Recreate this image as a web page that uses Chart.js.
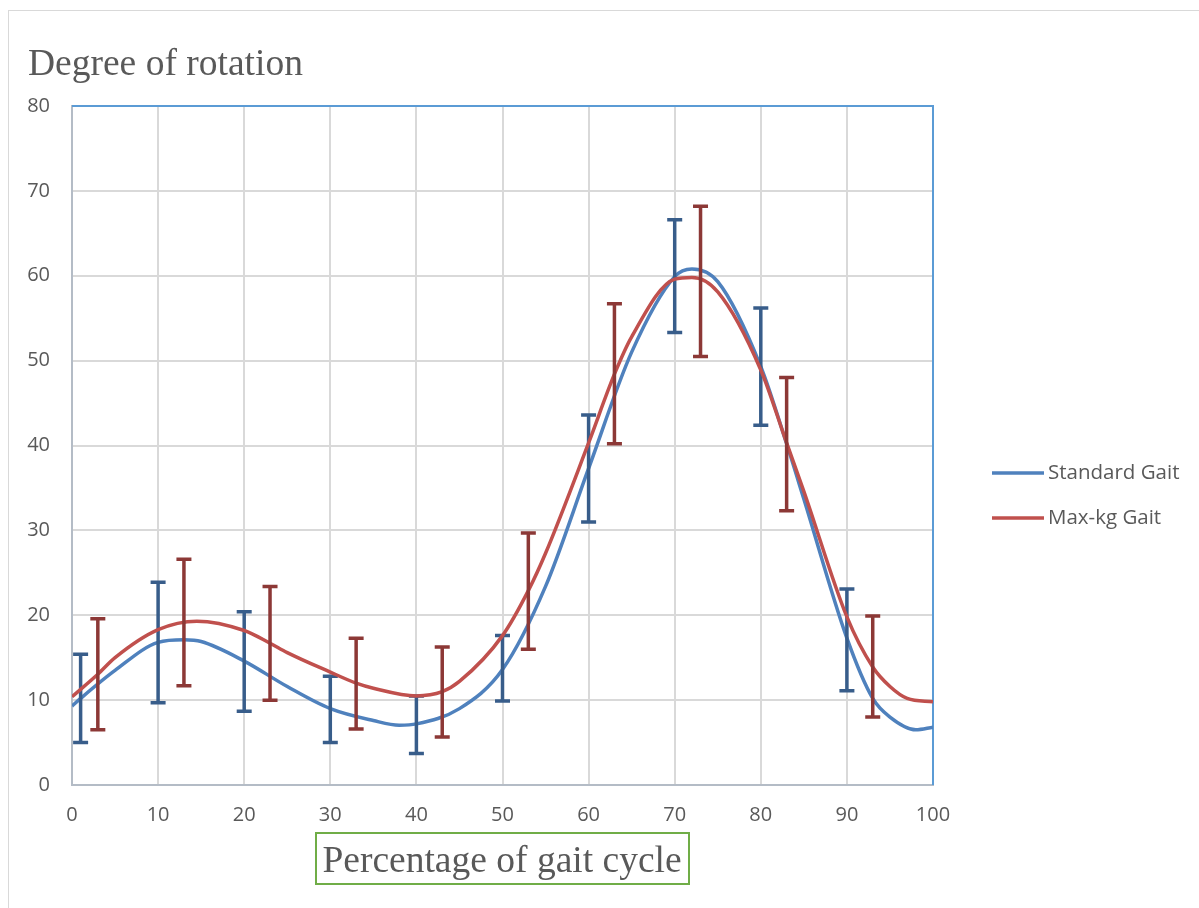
<!DOCTYPE html>
<html>
<head>
<meta charset="utf-8">
<script src="https://cdn.jsdelivr.net/npm/chart.js"></script>
<style>
  html, body { margin: 0; padding: 0; background: #fff; overflow: hidden; }
  #wrap { position: relative; width: 1199px; height: 908px; overflow: hidden; }
  #frame { position: absolute; left: 8px; top: 10px; width: 1400px; height: 1100px;
           border-left: 1px solid #d9d9d9; border-top: 1px solid #d9d9d9; }
  canvas { position: absolute; left: 0; top: 0; }
</style>
</head>
<body>
<div id="wrap">
  <div id="frame"></div>
  <canvas id="gaitChart" width="1199" height="908"></canvas>
</div>
<script>
// Smoothed rotation curves (gait % -> degrees)
const standardCurvePct = [0, 1, 5, 10, 13, 15, 20, 25, 30, 35, 38, 40, 45, 50, 55, 60, 65, 70, 72, 75, 80, 83, 85, 90, 93, 95, 98, 100];
const standardCurve    = [9.3, 10.2, 13.5, 16.8, 17.1, 16.9, 14.6, 11.6, 9.0, 7.6, 7.05, 7.2, 9.0, 13.6, 23.4, 37.3, 51.0, 59.9, 60.8, 59.3, 49.3, 40.2, 33.7, 17.3, 10.2, 8.0, 6.5, 6.8];
const maxKgCurvePct    = [0, 3, 5, 10, 14.5, 20, 23, 25, 30, 33, 35, 40, 43, 45, 50, 53, 55, 60, 63, 65, 70, 72, 75, 80, 83, 85, 90, 93, 95, 97, 100];
const maxKgCurve       = [10.4, 13.05, 15.0, 18.3, 19.3, 18.2, 16.7, 15.6, 13.3, 12.0, 11.4, 10.5, 11.0, 12.2, 17.6, 22.9, 27.3, 40.3, 48.4, 52.8, 59.6, 59.8, 58.1, 48.9, 40.3, 34.6, 19.8, 13.9, 11.6, 10.2, 9.8];

// Mean +/- SD at the measured points
const standardBarPct = [1, 10, 20, 30, 40, 50, 60, 70, 80, 90];
const standardMean   = [10.2, 16.8, 14.55, 8.9, 7.1, 13.75, 37.3, 59.95, 49.3, 17.1];
const standardSd     = [5.2, 7.1, 5.85, 3.9, 3.4, 3.85, 6.3, 6.65, 6.9, 6.0];
const maxKgBarPct    = [3, 13, 23, 33, 43, 53, 63, 73, 83, 93];
const maxKgMean      = [13.05, 19.15, 16.7, 11.95, 10.95, 22.85, 48.45, 59.35, 40.15, 13.95];
const maxKgSd        = [6.55, 7.45, 6.7, 5.35, 5.3, 6.85, 8.25, 8.85, 7.85, 5.95];

const xTicks = [0, 10, 20, 30, 40, 50, 60, 70, 80, 90, 100];
const yTicks = [0, 10, 20, 30, 40, 50, 60, 70, 80];

const seriesNames = ['Standard Gait', 'Max-kg Gait'];
const TEXT = '#595959';

const toPoints = (xs, ys) => xs.map((x, i) => ({ x, y: ys[i] }));

// vertical whiskers with caps, drawn right after their own series
const errorBarPlugin = {
  id: 'errorBars',
  afterDatasetDraw(chart, args) {
    const ds = chart.data.datasets[args.index];
    if (!ds.errorBars) return;
    const { ctx, scales: { x, y } } = chart;
    const eb = ds.errorBars;
    ctx.save();
    ctx.strokeStyle = ds.errorColor;
    ctx.lineWidth = 3.5;
    ctx.lineCap = 'butt';
    eb.x.forEach((v, i) => {
      const px = x.getPixelForValue(v);
      const top = y.getPixelForValue(eb.mean[i] + eb.sd[i]);
      const bot = y.getPixelForValue(eb.mean[i] - eb.sd[i]);
      ctx.beginPath();
      ctx.moveTo(px, top); ctx.lineTo(px, bot);
      ctx.moveTo(px - 7.5, top); ctx.lineTo(px + 7.5, top);
      ctx.moveTo(px - 7.5, bot); ctx.lineTo(px + 7.5, bot);
      ctx.stroke();
    });
    ctx.restore();
  }
};

// blue frame on the top and right of the plot area
const plotFramePlugin = {
  id: 'plotFrame',
  beforeDatasetsDraw(chart) {
    const { ctx, chartArea: a } = chart;
    ctx.save();
    ctx.strokeStyle = '#5b9bd5';
    ctx.lineWidth = 2;
    ctx.beginPath();
    ctx.moveTo(a.left, a.top); ctx.lineTo(a.right, a.top); ctx.lineTo(a.right, a.bottom);
    ctx.stroke();
    ctx.restore();
  }
};

// titles and legend
const textPlugin = {
  id: 'texts',
  afterDraw(chart) {
    const ctx = chart.ctx;
    ctx.save();
    ctx.fillStyle = TEXT;
    ctx.font = '37.5px "Liberation Serif"';
    ctx.textAlign = 'left';
    ctx.textBaseline = 'alphabetic';
    ctx.fillText('Degree of rotation', 28, 75);

    ctx.strokeStyle = '#70ad47';
    ctx.lineWidth = 2;
    ctx.strokeRect(316, 833, 373, 51);
    ctx.textAlign = 'center';
    ctx.fillText('Percentage of gait cycle', 502, 872);

    ctx.font = '20.5px "Open Sans"';
    ctx.textAlign = 'left';
    ctx.textBaseline = 'middle';
    chart.data.datasets.forEach((ds, i) => {
      const ly = 473 + i * 45;
      ctx.strokeStyle = ds.borderColor;
      ctx.lineWidth = 3.5;
      ctx.beginPath();
      ctx.moveTo(992, ly); ctx.lineTo(1044, ly);
      ctx.stroke();
      ctx.fillStyle = TEXT;
      ctx.fillText(ds.label, 1048, ly);
    });
    ctx.restore();
  }
};

const tickFont = { family: 'Open Sans', size: 20 };

new Chart(document.getElementById('gaitChart'), {
  type: 'line',
  data: {
    datasets: [
      {
        label: seriesNames[0],
        data: toPoints(standardCurvePct, standardCurve),
        borderColor: '#4f81bd',
        borderWidth: 3.5,
        pointRadius: 0,
        cubicInterpolationMode: 'monotone',
        order: 1,
        errorBars: { x: standardBarPct, mean: standardMean, sd: standardSd },
        errorColor: '#385d8a'
      },
      {
        label: seriesNames[1],
        data: toPoints(maxKgCurvePct, maxKgCurve),
        borderColor: '#c0504d',
        borderWidth: 3.5,
        pointRadius: 0,
        cubicInterpolationMode: 'monotone',
        order: 0,
        errorBars: { x: maxKgBarPct, mean: maxKgMean, sd: maxKgSd },
        errorColor: '#8c3836'
      }
    ]
  },
  options: {
    responsive: false,
    animation: false,
    layout: { padding: { left: 0, top: 106, right: 266, bottom: 83 } },
    plugins: { legend: { display: false }, tooltip: { enabled: false } },
    scales: {
      x: {
        type: 'linear', min: 0, max: 100,
        afterBuildTicks: s => { s.ticks = xTicks.map(v => ({ value: v })); },
        afterFit: s => { s.height = 40; },
        grid: { color: '#d9d9d9', lineWidth: 2, drawTicks: false },
        border: { color: '#b4bcc6', width: 2 },
        ticks: { color: TEXT, font: tickFont, padding: 18, maxRotation: 0 }
      },
      y: {
        type: 'linear', min: 0, max: 80,
        afterBuildTicks: s => { s.ticks = yTicks.map(v => ({ value: v })); },
        afterFit: s => { s.width = 72; },
        grid: { color: '#d9d9d9', lineWidth: 2, drawTicks: false },
        border: { color: '#b4bcc6', width: 2 },
        ticks: { color: TEXT, font: tickFont, padding: 22 }
      }
    }
  },
  plugins: [plotFramePlugin, errorBarPlugin, textPlugin]
});
</script>
</body>
</html>
